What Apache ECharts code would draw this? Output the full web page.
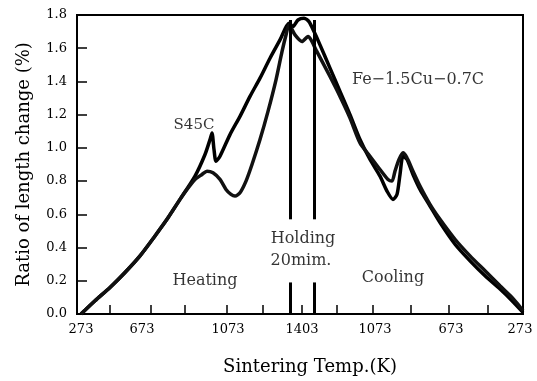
<!DOCTYPE html>
<html>
<head>
<meta charset="utf-8">
<script src="https://cdn.jsdelivr.net/npm/echarts@6/dist/echarts.min.js"></script>
<style>
html,body{margin:0;padding:0;background:#fff;}
#chart{width:537px;height:381px;}
</style>
</head>
<body>
<div id="chart"></div>
<script>
// x: process position along the heating → holding → cooling cycle (arbitrary units, 0..446)
// y: ratio of length change (%)
var xMin = 0, xMax = 446;

var s45cX = [4,18,33,48,63,78,90,103,118,128,133,135,137,139,143,153,163,173,183,193,203,212,216,221,227,232,237,243,253,263,273,283,293,303,310,316,320,323,326,330,336,343,353,363,378,393,408,423,435,446];
var s45cY = [0.00,0.08,0.16,0.25,0.35,0.47,0.57,0.69,0.83,0.96,1.05,1.09,0.99,0.92,0.95,1.08,1.19,1.31,1.42,1.54,1.65,1.75,1.73,1.77,1.78,1.76,1.70,1.62,1.48,1.34,1.20,1.05,0.93,0.83,0.74,0.69,0.72,0.84,0.95,0.93,0.84,0.75,0.65,0.55,0.42,0.32,0.23,0.15,0.08,0.01];

var feX = [4,18,33,48,63,78,90,103,110,118,125,130,136,143,149,154,158,163,169,175,183,191,199,205,209,212,218,225,231,235,239,253,263,273,283,293,303,311,315,318,322,326,330,336,343,353,363,378,393,408,423,435,446];
var feY = [0.00,0.08,0.16,0.25,0.35,0.47,0.57,0.69,0.75,0.81,0.84,0.86,0.85,0.81,0.75,0.72,0.71,0.73,0.80,0.90,1.05,1.22,1.41,1.58,1.68,1.74,1.68,1.64,1.67,1.64,1.59,1.43,1.31,1.18,1.03,0.95,0.87,0.81,0.80,0.86,0.93,0.97,0.94,0.86,0.77,0.66,0.57,0.45,0.35,0.26,0.17,0.10,0.02];

var xTickPos = [33,74,108,150,186,225,260,296,334,372,411];
var xLabelPos = [4,65,151,225,298,374,443];
var xLabelText = ['273','673','1073','1403','1073','673','273'];

var holdLeft = 213, holdRight = 237;
var holdLow = [0, 0.19];
var holdHigh = [0.57, 1.77];

var notes = [
  {name:'S45C', u:117, v:1.14, size:15},
  {name:'Fe\u22121.5Cu\u22120.7C', u:341, v:1.41, size:16},
  {name:'Heating', u:128, v:0.20, size:16},
  {name:'Holding', u:226, v:0.45, size:16},
  {name:'20mim.', u:224, v:0.32, size:16},
  {name:'Cooling', u:316, v:0.22, size:16}
];

function zip(xs, ys){ return xs.map(function(x,i){return [x, ys[i]];}); }

var FONT = '"DejaVu Serif", "Liberation Serif", serif';
var chart = echarts.init(document.getElementById('chart'), null, {renderer:'canvas'});
chart.setOption({
  animation:false,
  backgroundColor:'#fff',
  grid:{left:77, right:14, top:15, bottom:65, show:true, borderColor:'#000', borderWidth:2, backgroundColor:'transparent'},
  xAxis:{
    type:'value', min:xMin, max:xMax,
    name:'Sintering Temp.(K)', nameLocation:'middle', nameGap:44,
    nameTextStyle:{fontFamily:FONT, fontSize:18, color:'#000', padding:[0,0,0,20]},
    axisLine:{show:true, onZero:false, lineStyle:{color:'#000', width:2}},
    axisTick:{show:true, inside:true, length:9, lineStyle:{color:'#000', width:1.5}, customValues:xTickPos},
    axisLabel:{show:true, margin:9, fontFamily:FONT, fontSize:13, color:'#000', customValues:xLabelPos,
      formatter:function(v){ var i = xLabelPos.indexOf(v); return i>=0 ? xLabelText[i] : ''; }},
    splitLine:{show:false}
  },
  yAxis:{
    type:'value', min:0, max:1.8, interval:0.2,
    name:'Ratio of length change (%)', nameLocation:'middle', nameGap:44, nameRotate:90,
    nameTextStyle:{fontFamily:FONT, fontSize:18, color:'#000'},
    axisLine:{show:true, lineStyle:{color:'#000', width:2}},
    axisTick:{show:true, inside:true, length:10, lineStyle:{color:'#000', width:1.5}},
    axisLabel:{margin:10, fontFamily:FONT, fontSize:13, color:'#000', formatter:function(v){return v.toFixed(1);}},
    splitLine:{show:false}
  },
  series:[
    {type:'line', name:'S45C', data:zip(s45cX, s45cY), showSymbol:false, smooth:0.25,
      lineStyle:{color:'#000', width:3.5}, silent:true},
    {type:'line', name:'Fe-1.5Cu-0.7C', data:zip(feX, feY), showSymbol:false, smooth:0.25,
      lineStyle:{color:'#111', width:3.5}, silent:true},
    {type:'line', name:'holding', data:[], silent:true,
      markLine:{symbol:['none','none'], silent:true, label:{show:false},
        lineStyle:{color:'#000', width:3, type:'solid'},
        data:[
          [{coord:[holdLeft, holdLow[0]]},{coord:[holdLeft, holdLow[1]]}],
          [{coord:[holdLeft, holdHigh[0]]},{coord:[holdLeft, holdHigh[1]]}],
          [{coord:[holdRight, holdLow[0]]},{coord:[holdRight, holdLow[1]]}],
          [{coord:[holdRight, holdHigh[0]]},{coord:[holdRight, holdHigh[1]]}]
        ]}},
    {type:'scatter', name:'notes', silent:true, symbolSize:1, itemStyle:{color:'transparent'},
      data:notes.map(function(n){ return {name:n.name, value:[n.u, n.v],
        label:{show:true, position:'inside', formatter:'{b}', fontFamily:FONT, fontSize:n.size, color:'#000'}}; })}
  ]
});
</script>
</body>
</html>
